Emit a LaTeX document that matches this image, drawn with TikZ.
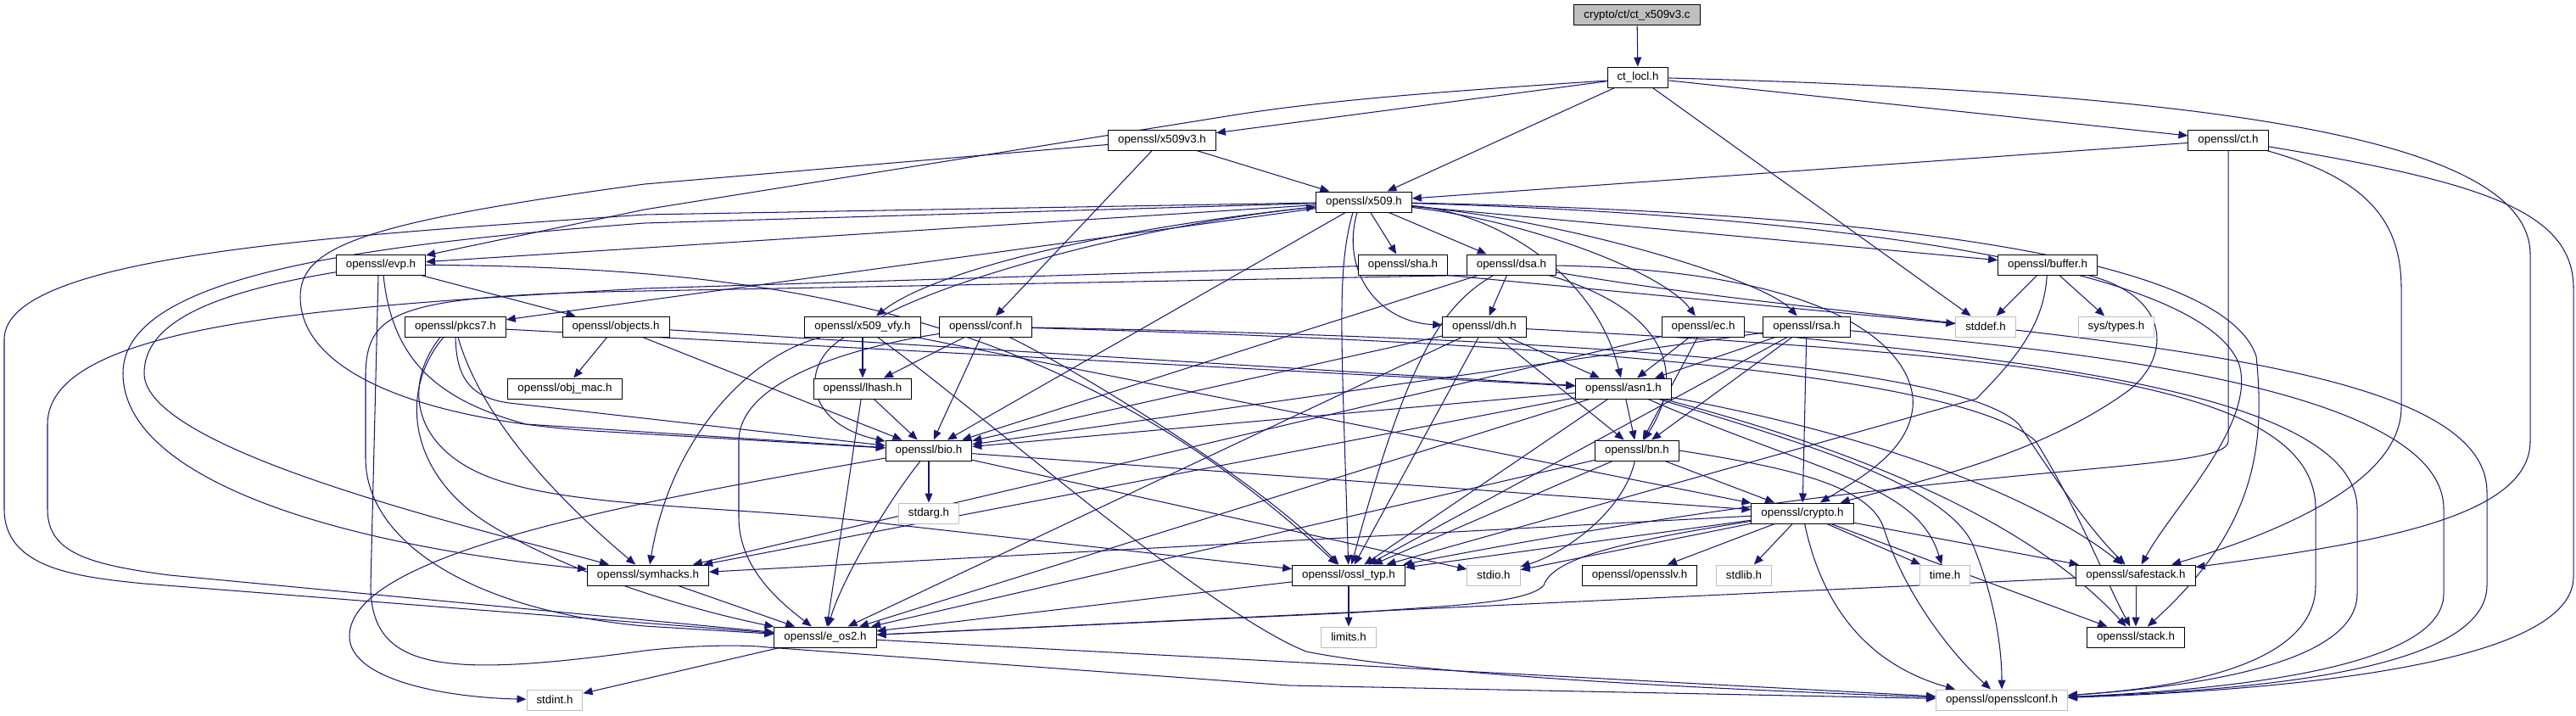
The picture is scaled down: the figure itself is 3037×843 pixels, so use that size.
\documentclass[tikz,border=0pt]{standalone}
\usepackage{fontspec}
\setmainfont{Liberation Sans}
\usetikzlibrary{arrows.meta}
\definecolor{edgec}{HTML}{191970}
\definecolor{sysc}{HTML}{BFBFBF}
\pgfdeclarelayer{bg}
\pgfsetlayers{bg,main}
\begin{document}
\begin{tikzpicture}[x=1pt,y=-1pt,
  nd/.style={draw=black,line width=1pt,fill=white,minimum height=24pt,inner xsep=11.5pt,inner ysep=0pt,font=\fontsize{13.33}{16}\selectfont},
  sys/.style={nd,draw=sysc},
  src/.style={nd,fill=sysc},
  e/.style={draw=edgec,line width=1.05pt,-{Triangle[length=11pt,width=9pt]}}]
\useasboundingbox (0,0) rectangle (3037,843);
% nodes
\node[src] (c) at (1930,18) {crypto/ct/ct\_x509v3.c};
\node[nd] (locl) at (1931,91) {ct\_locl.h};
\node[nd] (x509v3) at (1370,165) {openssl/x509v3.h};
\node[nd] (ct) at (2627,165) {openssl/ct.h};
\node[nd] (x509) at (1608,238) {openssl/x509.h};
\node[nd] (evp) at (449,312) {openssl/evp.h};
\node[nd] (sha) at (1654,312) {openssl/sha.h};
\node[nd] (dsa) at (1782,312) {openssl/dsa.h};
\node[nd] (buffer) at (2414,312) {openssl/buffer.h};
\node[nd] (pkcs7) at (537,385) {openssl/pkcs7.h};
\node[nd] (objects) at (726,385) {openssl/objects.h};
\node[nd] (vfy) at (1017,385) {openssl/x509\_vfy.h};
\node[nd] (conf) at (1162,385) {openssl/conf.h};
\node[nd] (dh) at (1750,385) {openssl/dh.h};
\node[nd] (ec) at (2008,385) {openssl/ec.h};
\node[nd] (rsa) at (2130,385) {openssl/rsa.h};
\node[sys] (stddef) at (2341,385) {stddef.h};
\node[sys] (systypes) at (2495,385) {sys/types.h};
\node[nd] (objmac) at (666,458) {openssl/obj\_mac.h};
\node[nd] (lhash) at (1017,458) {openssl/lhash.h};
\node[nd] (asn1) at (1914,458) {openssl/asn1.h};
\node[nd] (bio) at (1095,531) {openssl/bio.h};
\node[nd] (bn) at (1930,531) {openssl/bn.h};
\node[sys] (stdarg) at (1095,605) {stdarg.h};
\node[nd] (crypto) at (2125,605) {openssl/crypto.h};
\node[nd] (symhacks) at (764,678) {openssl/symhacks.h};
\node[nd] (ossl) at (1590,678) {openssl/ossl\_typ.h};
\node[sys] (stdio) at (1761,678) {stdio.h};
\node[nd] (opensslv) at (1933,678) {openssl/opensslv.h};
\node[sys] (stdlib) at (2056,678) {stdlib.h};
\node[sys] (time) at (2293,678) {time.h};
\node[nd] (safestack) at (2518,678) {openssl/safestack.h};
\node[nd] (eos2) at (973,751) {openssl/e\_os2.h};
\node[sys] (limits) at (1590,751) {limits.h};
\node[nd] (stack) at (2518,751) {openssl/stack.h};
\node[sys] (stdint) at (654,825) {stdint.h};
\node[sys] (oconf) at (2360,825) {openssl/opensslconf.h};
\begin{pgfonlayer}{bg}
% ct_x509v3.c / ct_locl.h
\draw[e] (c) -- (locl);
\draw[e] (locl) -- (x509v3);
\draw[e] ([yshift=-4pt]locl.west) .. controls (1700,108) and (1560,118) .. (1440,138) -- (760,247) -- (evp);
\draw[e] (locl) -- (x509);
\draw[e] (locl) -- (stddef);
\draw[e] (locl) -- (ct);
\draw[e] (locl) .. controls (2650,110) and (2983,170) .. (2983,300) -- (2983,520) .. controls (2983,610) and (2800,640) .. (safestack);
% ct.h
\draw[e] (ct) -- (x509);
\draw[e] (ct.south) -- (2627,520) .. controls (2627,560) and (2300,540) .. (ossl);
\draw[e] (ct) .. controls (2790,210) and (2831,260) .. (2831,340) -- (2831,480) .. controls (2831,570) and (2680,630) .. (safestack);
\draw[e] (ct) .. controls (2930,215) and (3034,250) .. (3034,340) -- (3034,680) .. controls (3034,790) and (2650,815) .. (oconf);
% x509v3.h
\draw[e] (x509v3) -- (760,217) .. controls (430,262) and (354,290) .. (354,350) .. controls (354,440) and (500,495) .. (700,508) -- (bio);
\draw[e] (x509v3) -- (x509);
\draw[e] (x509v3) -- (conf);
% x509.h
\draw[e] (x509) -- (760,253) .. controls (400,278) and (5,300) .. (5,400) -- (5,600) .. controls (5,670) and (90,680) .. (170,688) -- (eos2);
\draw[e] (x509) -- (760,263) .. controls (400,290) and (145,330) .. (145,440) .. controls (145,560) and (380,640) .. (symhacks);
\draw[e] (x509) -- (evp);
\draw[e] (x509) -- (pkcs7);
\draw[e] (x509) .. controls (1300,270) and (1100,320) .. (vfy);
\draw[e] (vfy) .. controls (1130,325) and (1350,265) .. (x509);
\draw[e] (x509) -- (bio);
\draw[e] ([xshift=-13pt]x509.south) .. controls (1575,320) and (1582,400) .. (ossl);
\draw[e] ([xshift=-8pt]x509.south) .. controls (1580,320) and (1625,380) .. (dh);
\draw[e] (x509) -- (sha);
\draw[e] (x509) -- (dsa);
\draw[e] (x509) .. controls (1760,250) and (1880,320) .. (asn1);
\draw[e] (x509) .. controls (1800,260) and (1960,320) .. (ec);
\draw[e] (x509) .. controls (1850,260) and (2080,330) .. (rsa);
\draw[e] (x509) -- (buffer);
\draw[e] (x509) .. controls (2200,250) and (2620,300) .. (2660,420) .. controls (2670,520) and (2663,620) .. (stack);
\draw[e] (x509) .. controls (2200,255) and (2600,320) .. (2640,430) .. controls (2660,500) and (2560,600) .. (safestack);
% x509_vfy.h
\draw[e] (vfy) -- (lhash);
\draw[e] (vfy) .. controls (940,430) and (950,500) .. (bio);
\draw[e] (vfy) .. controls (880,420) and (790,520) .. (symhacks);
\draw[e] (vfy) -- (crypto);
\draw[e] (vfy) .. controls (1150,480) and (1420,720) .. (1540,768) .. controls (1700,800) and (2100,815) .. (oconf);
% evp.h
\draw[e] (evp) .. controls (250,345) and (170,380) .. (170,440) .. controls (170,530) and (550,620) .. (symhacks);
\draw[e] ([xshift=-3pt]evp.south) -- (437,690) .. controls (437,790) and (520,800) .. (760,767) .. controls (820,760) and (880,760) .. (905,763) -- (1520,808) -- (oconf);
\draw[e] (evp) .. controls (900,315) and (1250,360) .. (ossl);
\draw[e] ([xshift=3pt]evp.south) .. controls (462,420) and (510,470) .. (620,500) -- (bio);
\draw[e] (evp) -- (objects);
% objects.h
\draw[e] (objects) -- (objmac);
\draw[e] (objects) -- (bio);
\draw[e] (objects) -- (asn1);
% pkcs7.h
\draw[e] (pkcs7) -- (asn1);
\draw[e] (pkcs7.south) .. controls (538,440) and (550,468) .. (600,475) -- (bio);
\draw[e] ([xshift=-14pt]pkcs7.south) .. controls (470,460) and (480,560) .. (580,620) .. controls (680,680) and (820,720) .. (eos2);
\draw[e] ([xshift=3pt]pkcs7.south) .. controls (555,450) and (600,540) .. (symhacks);
\draw[e] ([xshift=-18pt]pkcs7.south) .. controls (470,460) and (490,540) .. (600,570) .. controls (700,600) and (900,598) .. (1050,618) -- (ossl);
% conf.h
\draw[e] (conf) -- (lhash);
\draw[e] (conf) -- (bio);
\draw[e] (conf) .. controls (1700,400) and (2300,430) .. (2400,520) .. controls (2450,600) and (2480,680) .. (stack);
\draw[e] (conf) .. controls (1700,395) and (2300,420) .. (2380,500) .. controls (2420,560) and (2460,620) .. (safestack);
\draw[e] (conf) .. controls (1000,410) and (871,450) .. (871,520) -- (871,610) .. controls (871,670) and (920,710) .. (eos2);
\draw[e] (conf) .. controls (1240,420) and (1480,560) .. (ossl);
% lhash.h
\draw[e] (lhash) -- (bio);
\draw[e] (lhash) -- (eos2);
% bio.h
\draw[e] (bio) -- (stdarg);
\draw[e] (bio) .. controls (1040,600) and (990,690) .. (eos2);
\draw[e] (bio) -- (crypto);
\draw[e] (bio) -- (stdio);
\draw[e] (bio) .. controls (760,590) and (412,650) .. (412,750) .. controls (412,800) and (520,822) .. (stdint);
% crypto.h
\draw[e] (crypto) -- (opensslv);
\draw[e] (crypto) -- (stdlib);
\draw[e] (crypto) -- (time);
\draw[e] (crypto) -- (safestack);
\draw[e] (crypto) -- (stack);
\draw[e] (crypto) .. controls (2145,700) and (2190,780) .. ([xshift=-55pt]oconf.north);
\draw[e] (crypto) -- (ossl);
\draw[e] (crypto) -- (stdio);
\draw[e] (crypto) -- (symhacks);
\draw[e] (crypto) .. controls (1900,640) and (1830,660) .. (1820,690) .. controls (1800,712) and (1700,714) .. (1600,722) -- (eos2);
% safestack, ossl_typ, symhacks, e_os2
\draw[e] (safestack) -- (stack);
\draw[e] (safestack) -- (eos2);
\draw[e] (ossl) -- (limits);
\draw[e] (ossl) -- (eos2);
\draw[e] (symhacks) -- (eos2);
\draw[e] (eos2) -- (stdint);
\draw[e] (eos2) -- (oconf);
% asn1.h
\draw[e] (asn1) -- (bn);
\draw[e] (asn1) -- (bio);
\draw[e] (asn1) -- (ossl);
\draw[e] (asn1) -- (symhacks);
\draw[e] (asn1) -- (eos2);
\draw[e] (asn1) .. controls (2150,560) and (2260,570) .. (time);
\draw[e] (asn1) .. controls (2250,520) and (2420,600) .. (safestack);
\draw[e] (asn1) .. controls (2150,520) and (2380,600) .. (stack);
\draw[e] (asn1) .. controls (2120,520) and (2290,570) .. (2325,640) .. controls (2350,700) and (2360,760) .. (oconf.north);
% bn.h
\draw[e] (bn) -- (crypto);
\draw[e] (bn) -- (ossl);
\draw[e] (bn) .. controls (1915,600) and (1850,650) .. (stdio);
\draw[e] (bn) -- (eos2);
\draw[e] (bn.east) .. controls (2100,550) and (2200,570) .. (2220,620) .. controls (2245,700) and (2300,770) .. ([xshift=-13pt]oconf.north);
% dh.h
\draw[e] (dh) -- (asn1);
\draw[e] (dh) -- (bn);
\draw[e] (dh) -- (bio);
\draw[e] (dh) -- (ossl);
\draw[e] (dh) -- (eos2);
\draw[e] (dh) .. controls (2400,420) and (2730,450) .. (2730,600) -- (2730,690) .. controls (2730,790) and (2550,812) .. (oconf);
% dsa.h
\draw[e] (dsa) -- (dh);
\draw[e] (dsa) -- (bio);
\draw[e] (dsa) .. controls (1700,360) and (1660,420) .. (ossl);
\draw[e] (dsa) .. controls (1950,360) and (1995,430) .. (bn);
\draw[e] (dsa) .. controls (2200,320) and (2260,430) .. (2255,480) .. controls (2250,530) and (2200,560) .. (crypto);
\draw[e] (dsa.south west) -- (760,343) .. controls (470,348) and (433,365) .. (431,440) -- (431,540) .. controls (431,640) and (560,720) .. (760,738) -- (eos2);
\draw[e] (dsa) .. controls (2300,400) and (2932,400) .. (2932,580) -- (2932,690) .. controls (2932,800) and (2600,815) .. (oconf);
% ec.h
\draw[e] (ec) -- (asn1);
\draw[e] (ec) -- (bn);
\draw[e] (ec) -- (symhacks);
\draw[e] (ec) .. controls (2300,420) and (2779,450) .. (2779,600) -- (2779,700) .. controls (2779,790) and (2550,812) .. (oconf);
% rsa.h
\draw[e] (rsa) -- (asn1);
\draw[e] (rsa) -- (bn);
\draw[e] (rsa) -- (crypto);
\draw[e] (rsa) -- (bio);
\draw[e] (rsa) -- (ossl);
\draw[e] (rsa) .. controls (2400,410) and (2881,450) .. (2881,600) -- (2881,700) .. controls (2881,795) and (2580,815) .. (oconf);
% sha.h
\draw[e] (sha) -- (760,340) .. controls (400,360) and (56,380) .. (56,500) -- (56,600) .. controls (56,650) and (100,665) .. (200,678) -- (eos2);
\draw[e] (sha.south east) -- (stddef);
% buffer.h
\draw[e] (buffer) -- (stddef);
\draw[e] (buffer) -- (systypes);
\draw[e] (buffer) .. controls (2410,380) and (2380,420) .. (2330,470) -- (ossl);
\draw[e] (buffer) .. controls (2560,350) and (2560,420) .. (2510,460) .. controls (2400,540) and (2250,570) .. (crypto);
\end{pgfonlayer}
\end{tikzpicture}
\end{document}
